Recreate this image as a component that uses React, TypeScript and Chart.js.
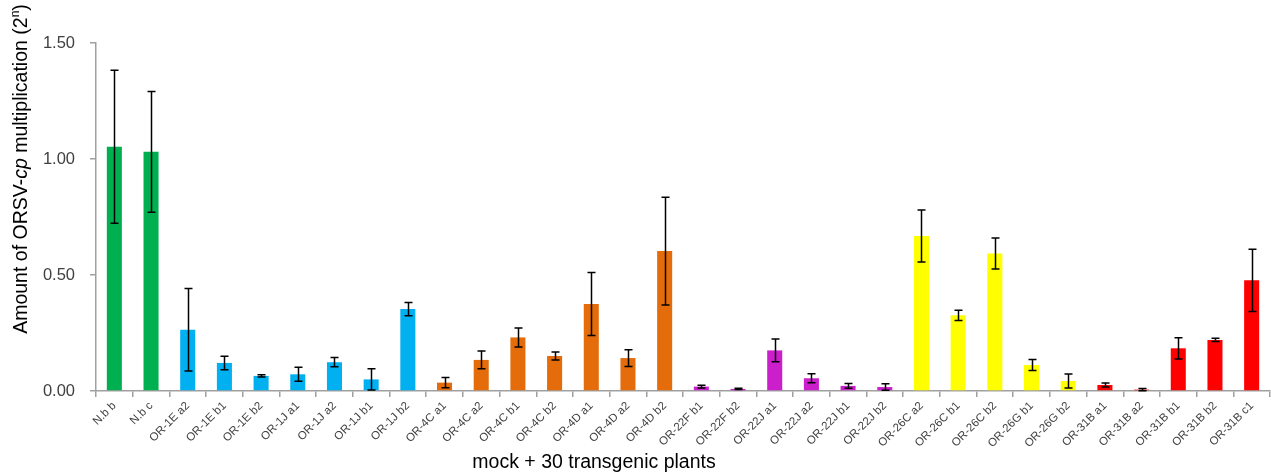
import React, { useEffect, useRef } from "react";
import { Chart, registerables } from "chart.js";

Chart.register(...registerables);

const categories = [
  "N.b b", "N.b c", "OR-1E a2", "OR-1E b1", "OR-1E b2", "OR-1J a1", "OR-1J a2", "OR-1J b1", "OR-1J b2",
  "OR-4C a1", "OR-4C a2", "OR-4C b1", "OR-4C b2", "OR-4D a1", "OR-4D a2", "OR-4D b2",
  "OR-22F b1", "OR-22F b2", "OR-22J a1", "OR-22J a2", "OR-22J b1", "OR-22J b2",
  "OR-26C a2", "OR-26C b1", "OR-26C b2", "OR-26G b1", "OR-26G b2",
  "OR-31B a1", "OR-31B a2", "OR-31B b1", "OR-31B b2", "OR-31B c1",
];

const values = [
  1.053, 1.031, 0.264, 0.121, 0.065, 0.072, 0.124, 0.05, 0.353,
  0.036, 0.134, 0.231, 0.151, 0.375, 0.142, 0.603,
  0.019, 0.009, 0.175, 0.055, 0.022, 0.017,
  0.668, 0.326, 0.593, 0.112, 0.043,
  0.026, 0.006, 0.184, 0.22, 0.477,
];

const errors = [
  0.33, 0.26, 0.178, 0.029, 0.005, 0.03, 0.02, 0.046, 0.029,
  0.022, 0.038, 0.041, 0.017, 0.136, 0.036, 0.232,
  0.006, 0.003, 0.049, 0.019, 0.01, 0.014,
  0.112, 0.022, 0.067, 0.024, 0.03,
  0.009, 0.005, 0.046, 0.007, 0.134,
];

const groupColors = ["#00B050", "#00B0F0", "#E46C0A", "#CC1FCC", "#FFFF00", "#FF0000"];
const groupOf = [
  0, 0, 1, 1, 1, 1, 1, 1, 1,
  2, 2, 2, 2, 2, 2, 2,
  3, 3, 3, 3, 3, 3,
  4, 4, 4, 4, 4,
  5, 5, 5, 5, 5,
];

const yTicks = [0, 0.5, 1.0, 1.5];
const xTitle = "mock + 30 transgenic plants";
const yTitleParts = [
  { text: "Amount of ORSV-", style: "normal", sup: false },
  { text: "cp", style: "italic", sup: false },
  { text: " multiplication (2", style: "normal", sup: false },
  { text: "n", style: "normal", sup: true },
  { text: ")", style: "normal", sup: false },
];

const FONT = "'Liberation Sans', Arial, sans-serif";

const errorBarPlugin = {
  id: "errorBars",
  afterDatasetsDraw(chart: any) {
    const ctx = chart.ctx;
    const meta = chart.getDatasetMeta(0);
    const y = chart.scales.y;
    ctx.save();
    ctx.strokeStyle = "#000000";
    ctx.lineWidth = 1.5;
    meta.data.forEach((bar: any, i: number) => {
      const v = values[i];
      const e = errors[i];
      const yt = y.getPixelForValue(v + e);
      const yb = y.getPixelForValue(Math.max(0, v - e));
      const x = Math.round(bar.x) + 0.5;
      const cap = 4;
      ctx.beginPath();
      ctx.moveTo(x, yt);
      ctx.lineTo(x, yb);
      ctx.moveTo(x - cap, yt);
      ctx.lineTo(x + cap, yt);
      ctx.moveTo(x - cap, yb);
      ctx.lineTo(x + cap, yb);
      ctx.stroke();
    });
    ctx.restore();
  },
};

const titlesPlugin = {
  id: "titles",
  afterDraw(chart: any) {
    const ctx = chart.ctx;
    ctx.save();
    ctx.fillStyle = "#000000";
    // x title
    ctx.font = `19.5px ${FONT}`;
    ctx.textAlign = "center";
    ctx.textBaseline = "alphabetic";
    ctx.fillText(xTitle, 594, 468);
    // y title (rotated)
    const size = 19.5;
    const fontFor = (p: any) => `${p.style === "italic" ? "italic " : ""}${p.sup ? Math.round(size * 0.6) : size}px ${FONT}`;
    let total = 0;
    yTitleParts.forEach((p) => {
      ctx.font = fontFor(p);
      total += ctx.measureText(p.text).width;
    });
    const cx = 27;
    const cy = 169;
    ctx.translate(cx, cy);
    ctx.rotate(-Math.PI / 2);
    ctx.textAlign = "left";
    let pos = -total / 2;
    yTitleParts.forEach((p) => {
      ctx.font = fontFor(p);
      ctx.fillText(p.text, pos, p.sup ? -8 : 0);
      pos += ctx.measureText(p.text).width;
    });
    ctx.restore();
  },
};

export default function App() {
  const ref = useRef<HTMLCanvasElement | null>(null);
  useEffect(() => {
    document.body.style.margin = "0";
    const canvas = ref.current;
    if (!canvas) return;
    const chart = new Chart(canvas, {
      type: "bar",
      data: {
        labels: categories,
        datasets: [
          {
            data: values,
            backgroundColor: groupOf.map((g) => groupColors[g]),
            borderWidth: 0,
            barPercentage: 0.41,
            categoryPercentage: 1,
          },
        ],
      },
      options: {
        animation: false,
        responsive: false,
        maintainAspectRatio: false,
        layout: { padding: { top: 43, right: 1, left: 0, bottom: 0 } },
        plugins: { legend: { display: false }, tooltip: { enabled: false } },
        scales: {
          x: {
            offset: true,
            grid: {
              display: true,
              drawOnChartArea: false,
              offset: true,
              tickLength: 6,
              color: "#A0A0A0",
              lineWidth: 1.5,
            },
            border: { display: true, color: "#A0A0A0", width: 1.5 },
            ticks: {
              autoSkip: false,
              minRotation: 45,
              maxRotation: 45,
              padding: 2,
              color: "#404040",
              font: { family: FONT, size: 11.5 },
            },
            afterFit: (scale: any) => {
              scale.height = 82;
            },
          },
          y: {
            min: 0,
            max: 1.5,
            afterBuildTicks: (scale: any) => {
              scale.ticks = yTicks.map((v) => ({ value: v }));
            },
            grid: {
              display: true,
              drawOnChartArea: false,
              tickLength: 6,
              color: "#A0A0A0",
              lineWidth: 1.5,
            },
            border: { display: true, color: "#A0A0A0", width: 1.5 },
            ticks: {
              padding: 15,
              color: "#404040",
              font: { family: FONT, size: 16.5 },
              callback: (v: any) => Number(v).toFixed(2),
            },
            afterFit: (scale: any) => {
              scale.width = 96;
            },
          },
        },
      },
      plugins: [errorBarPlugin, titlesPlugin],
    });
    return () => chart.destroy();
  }, []);
  return <canvas ref={ref} width={1271} height={473} style={{ display: "block" }} />;
}
